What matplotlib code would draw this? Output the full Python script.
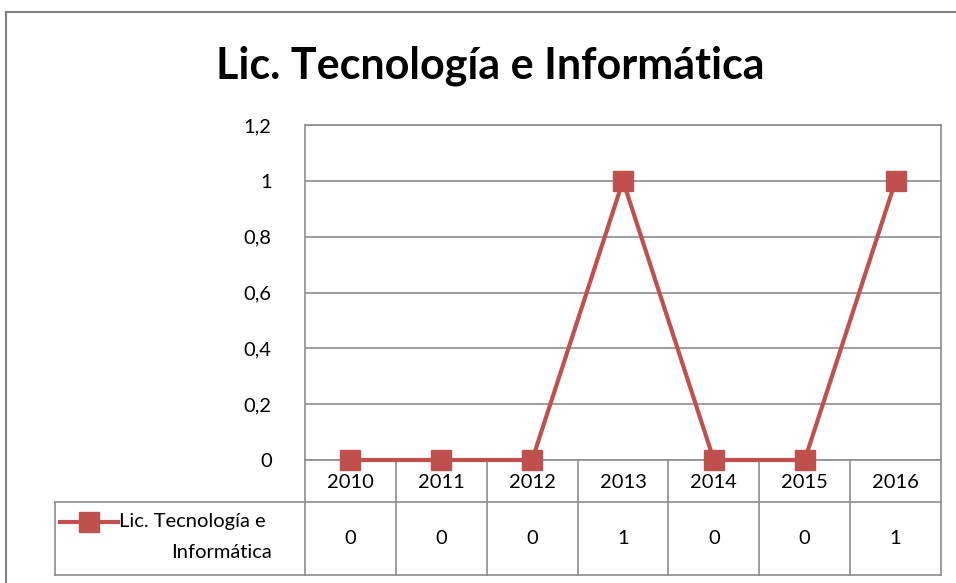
import matplotlib.pyplot as plt
from matplotlib.lines import Line2D

years = ['2010', '2011', '2012', '2013', '2014', '2015', '2016']
values = [0, 0, 0, 1, 0, 0, 1]
series_name = 'Lic. Tecnología e Informática'
y_ticks = [0, 0.2, 0.4, 0.6, 0.8, 1.0, 1.2]

red = '#C0504D'
grid_gray = '#8C8C8C'
plt.rcParams['font.family'] = ['Lato', 'DejaVu Sans']

fig = plt.figure(figsize=(9.56, 5.83), dpi=100)
W, H = 956, 583

# plot area in pixels: x 305-941, y 125-460
ax = fig.add_axes([305 / W, (H - 460) / H, 636 / W, 335 / H])
n = len(years)
x = list(range(n))
ax.plot(x, values, color=red, lw=3, marker='s', markersize=14,
        clip_on=False, zorder=5)
ax.set_xlim(-0.5, n - 0.5)
ax.set_ylim(0, 1.2)
ax.set_yticks(y_ticks)
ax.set_yticklabels([f'{t:g}'.replace('.', ',') for t in y_ticks], fontsize=14.5)
ax.tick_params(axis='y', length=0, pad=24)
ax.set_xticks([])
ax.grid(axis='y', color=grid_gray, lw=1.2)
for s in ax.spines.values():
    s.set_color(grid_gray)
    s.set_linewidth(1.2)
ax.set_axisbelow(True)


def px_x(px):
    return -0.5 + (px - 305) / 636 * n


def px_y(py):
    return (460 - py) / 335


# data table below the plot area
tr = ax.get_xaxis_transform()
hdr = px_y(502)
bot = px_y(575)
left = px_x(55)
lk = dict(color=grid_gray, lw=1.2, transform=tr, clip_on=False)
for b in [i - 0.5 for i in range(n + 1)]:
    ax.add_line(Line2D([b, b], [0, bot], **lk))
ax.add_line(Line2D([-0.5, n - 0.5], [hdr, hdr], **lk))
ax.add_line(Line2D([left, n - 0.5], [bot, bot], **lk))
ax.add_line(Line2D([left, -0.5], [hdr, hdr], **lk))
ax.add_line(Line2D([left, left], [hdr, bot], **lk))

for i, (yr, v) in enumerate(zip(years, values)):
    ax.text(i, px_y(483), yr, transform=tr, ha='center', va='center',
            fontsize=14.5)
    ax.text(i, px_y(538), f'{v:g}', transform=tr, ha='center',
            va='center', fontsize=14.5)

# legend key inside table
ky = px_y(522)
ax.add_line(Line2D([px_x(60), px_x(118)], [ky, ky], color=red, lw=3,
                   transform=tr, clip_on=False))
ax.add_line(Line2D([px_x(89)], [ky], color=red, marker='s', markersize=14,
                   transform=tr, clip_on=False))
ax.text(px_x(119), ky, 'Lic. Tecnología e', transform=tr, ha='left',
        va='center', fontsize=14.5)
ax.text(px_x(272), px_y(553), 'Informática', transform=tr, ha='right',
        va='center', fontsize=14.5)

fig.text(490 / W, 1 - 66 / H, series_name, ha='center', va='center',
         fontsize=31, fontweight='bold')

# chart area border
fig.add_artist(Line2D([6 / W, 6 / W], [0, 1 - 12 / H], color='#7F7F7F',
                      lw=1.5, transform=fig.transFigure))
fig.add_artist(Line2D([6 / W, 1], [1 - 12 / H, 1 - 12 / H], color='#7F7F7F',
                      lw=1.5, transform=fig.transFigure))

fig.savefig('out.png', dpi=100)
